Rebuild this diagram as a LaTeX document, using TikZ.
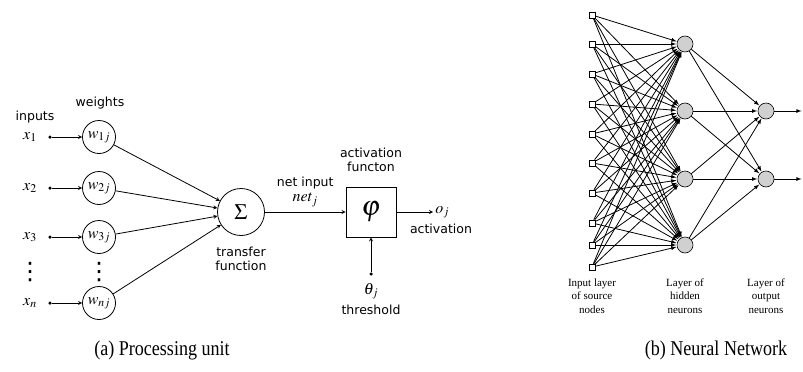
\documentclass[tikz,border=0pt]{standalone}
\usepackage{amsmath,amssymb}
\usepackage{mathptmx}
\usepackage{fontspec}
\setmainfont{Liberation Serif}
\newfontfamily\labelfont{DejaVu Sans}
\newfontfamily\capfont[FakeStretch=0.86]{Liberation Serif}
\usepackage{xcolor}
\usepackage{tikz}
\usetikzlibrary{arrows, positioning}
\definecolor{neuronColor}{RGB}{208, 208, 208}

\begin{document}
\begin{tikzpicture}[x=1pt, y=-1pt, line width=0.8pt,
    lbl/.style={font=\labelfont\fontsize{12.5}{14}\selectfont, text centered, inner sep=1pt},
    var/.style={font=\fontsize{16}{17}\selectfont, inner sep=1pt},
    dot/.style={circle, fill, inner sep=0pt, minimum size=3.5pt},
    weight/.style={circle, draw, minimum size=33, inner sep=0pt, font=\fontsize{16}{17}\selectfont},
    src/.style={rectangle, draw, fill=white, line width=0.6pt, minimum size=6, inner sep=0pt},
    neuron/.style={circle, draw, fill=neuronColor, line width=0.6pt, minimum size=16, inner sep=0pt},
    net/.style={-latex, line width=0.8pt, shorten >=0.5pt},
    layer/.style={font=\fontsize{11}{13.5}\selectfont, align=center},
    caption/.style={font=\capfont\fontsize{21}{24}\selectfont}]

    \useasboundingbox (0,0) rectangle (803,372);

    % processing unit
    \node (sum) [circle, draw, minimum size=47, font=\fontsize{22}{24}\selectfont] at (241,212) {$\Sigma$};
    \node (tf) [lbl, below=10pt of sum, align=center] {transfer\\function};

    \node (inputs) [lbl] at (35,117) {inputs};
    \node (weights) [lbl] at (100,103) {weights};
    \foreach \i/\y in {1/137, 2/188, 3/237, n/303} {
        \node (x\i) [var] at (30,\y) {$x_{\i}$};
        \node (d\i) [dot] at (50,\y) {};
        \node (w\i) [weight] at (99,\y) {$w_{\i j}$};
        \draw[-stealth] (d\i) -- (w\i);
        \draw[-stealth] (w\i) -- (sum);
    }
    \node (vx) [lbl, font=\labelfont\fontsize{24}{24}\selectfont] at (30,272) {⋮};
    \node (vw) [lbl, font=\labelfont\fontsize{24}{24}\selectfont] at (99,272) {⋮};

    \node (phi) [draw, minimum size=50, font=\fontsize{28}{30}\selectfont] at (371,212) {$\varphi$};
    \draw[-stealth] (sum) -- (phi) node[midway, above=4pt, lbl, align=center] {net input\\[1pt]\fontsize{16}{17}\selectfont$net_j$};
    \node (af) [lbl, above=14pt of phi, align=center] {activation\\functon};

    \coordinate (out) at (433,212);
    \draw[-stealth] (phi) -- (out);
    \node (oj) [var, right=1pt of out] {$o_j$};
    \node (act) [lbl] at (441,229) {activation};

    \node (thdot) [dot] at (371,274) {};
    \draw[-stealth] (thdot) -- (phi);
    \node (theta) [var] at (371,291) {$\theta_j$};
    \node (thr) [lbl] at (371,310) {threshold};

    % neural network
    \foreach \i/\y in {1/15, 2/44, 3/74, 4/104, 5/134, 6/163, 7/193, 8/223, 9/245, 10/267}
        \node (in\i) [src] at (592,\y) {};
    \foreach \j/\y in {1/44, 2/111, 3/179, 4/245}
        \node (h\j) [neuron] at (685,\y) {};
    \foreach \k/\y in {1/111, 2/179}
        \node (o\k) [neuron] at (766,\y) {};

    \foreach \i in {1,...,10}
        \foreach \j in {1,...,4}
            \draw[net] (in\i) -- (h\j);
    \foreach \j in {1,...,4}
        \foreach \k in {1,2}
            \draw[net] (h\j) -- (o\k);

    \coordinate (e1) at (802,111);
    \coordinate (e2) at (802,179);
    \draw[net] (o1) -- (e1);
    \draw[net] (o2) -- (e2);

    \node (lin) [layer] at (592,296) {Input layer\\of source\\nodes};
    \node (lhid) [layer] at (685,296) {Layer of\\hidden\\neurons};
    \node (lout) [layer] at (766,296) {Layer of\\output\\neurons};

    % captions
    \node (capa) [caption] at (162,350) {(a) Processing unit};
    \node (capb) [caption] at (716,350) {(b) Neural Network};

\end{tikzpicture}
\end{document}
